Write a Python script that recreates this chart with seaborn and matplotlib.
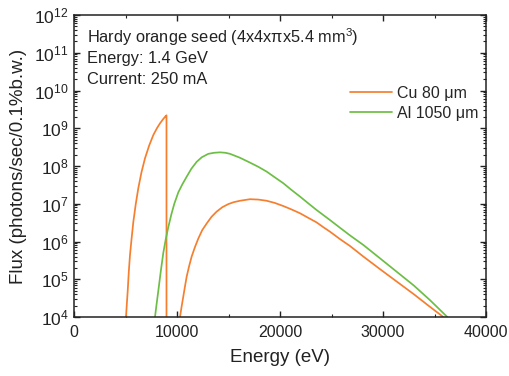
import numpy as np
import pandas as pd
import matplotlib
matplotlib.use("Agg")
import matplotlib.pyplot as plt
import matplotlib.ticker as mticker
from matplotlib.lines import Line2D
import seaborn as sns

# ---- data ----
cu_edge_E = [5049, 5130, 5210, 5320, 5437, 5600, 5760, 6000, 6245, 6550, 6893,
             7300, 7700, 8050, 8350, 8650, 8900, 8980, 8980]
cu_edge_F = [1.0e4, 2.24e4, 4.7e4, 1.58e5, 4.4e5, 1.26e6, 3.3e6, 1.0e7, 2.6e7, 6.8e7, 1.6e8,
             3.5e8, 6.6e8, 1.0e9, 1.35e9, 1.74e9, 2.1e9, 2.2e9, 1.0e4]

cu_main_E = [10290, 10450, 10612, 10780, 10938, 11180, 11424, 11750, 12070, 12450,
             12880, 13350, 13850, 14400, 14984, 15500, 16117, 17087, 17900, 18706,
             19500, 20320, 21100, 21942, 22700, 23560, 24200, 24854, 25800, 26796,
             28090, 29700, 31330, 33000, 34560, 35857]
cu_main_F = [1.0e4, 1.9e4, 3.5e4, 6.6e4, 1.17e5, 2.24e5, 4.0e5, 7.2e5, 1.2e6, 2.0e6,
             3.0e6, 4.5e6, 6.2e6, 8.1e6, 9.8e6, 1.1e7, 1.2e7, 1.32e7, 1.29e7, 1.2e7,
             1.05e7, 8.7e6, 7.1e6, 5.6e6, 4.3e6, 3.2e6, 2.4e6, 1.82e6, 1.17e6, 7.6e5,
             4.0e5, 1.86e5, 8.7e4, 4.0e4, 1.86e4, 1.0e4]

al_E = [7864, 8000, 8188, 8430, 8670, 8900, 9155, 9450, 9738, 10126, 10500, 10938,
        11400, 11909, 12400, 13040, 13600, 14175, 14700, 15146, 16100, 17087, 17900,
        18706, 19500, 20320, 21100, 21942, 22700, 23560, 24854, 25800, 26796, 28090,
        29700, 31330, 33000, 34560, 36245]
al_F = [1.0e4, 2.0e4, 5.0e4, 1.66e5, 5.0e5, 1.12e6, 2.4e6, 5.2e6, 1.0e7, 2.0e7, 3.2e7, 5.2e7,
        8.5e7, 1.29e8, 1.7e8, 2.1e8, 2.24e8, 2.3e8, 2.24e8, 2.1e8, 1.66e8, 1.23e8, 9.5e7,
        7.1e7, 5.0e7, 3.5e7, 2.34e7, 1.55e7, 1.05e7, 6.8e6, 3.7e6, 2.34e6, 1.45e6, 8.1e5,
        3.6e5, 1.58e5, 6.8e4, 2.8e4, 1.0e4]

series_names = ["Cu 80 \u03bcm", "Al 1050 \u03bcm"]
series_colors = ["#F57F2E", "#6DBE45"]
x_ticks = [0, 10000, 20000, 30000, 40000]
title_lines = ["Hardy orange seed (4x4x\u03c0x5.4 mm$^3$)", "Energy: 1.4 GeV", "Current: 250 mA"]

df = pd.concat([
    pd.DataFrame({"E": cu_edge_E, "F": cu_edge_F, "series": series_names[0], "seg": 0}),
    pd.DataFrame({"E": cu_main_E, "F": cu_main_F, "series": series_names[0], "seg": 1}),
    pd.DataFrame({"E": al_E, "F": al_F, "series": series_names[1], "seg": 2}),
], ignore_index=True)

sns.set_style("ticks")
plt.rcParams["font.family"] = ["Liberation Sans", "DejaVu Sans"]
plt.rcParams["mathtext.fontset"] = "custom"
plt.rcParams["mathtext.rm"] = "Liberation Sans"
plt.rcParams["mathtext.it"] = "Liberation Sans:italic"
plt.rcParams["mathtext.bf"] = "Liberation Sans:bold"

W, H = 509, 376
fig = plt.figure(figsize=(W / 100, H / 100), dpi=100)
L, R, T, B = 74, 486, 15, 317
ax = fig.add_axes([L / W, 1 - B / H, (R - L) / W, (B - T) / H])

palette = dict(zip(series_names, series_colors))
sns.lineplot(data=df, x="E", y="F", hue="series", units="seg", estimator=None,
             sort=False, palette=palette, hue_order=series_names, lw=1.25,
             legend=False, ax=ax)

ax.set_yscale("log")
ax.set_xlim(0, 40000)
ax.set_ylim(1e4, 1e12)
ax.set_xticks(x_ticks)
ax.set_xticklabels([str(v) for v in x_ticks])
ax.xaxis.set_minor_locator(mticker.MultipleLocator(5000))
ax.yaxis.set_major_locator(mticker.LogLocator(base=10, numticks=20))
ax.yaxis.set_minor_locator(mticker.LogLocator(base=10, subs=np.arange(2, 10), numticks=100))
ax.yaxis.set_minor_formatter(mticker.NullFormatter())

ax.tick_params(which="both", direction="in", top=True, right=True, color="#222222")
ax.tick_params(which="major", length=4.5, width=1.0, labelsize=11.5, labelcolor="#222222")
ax.tick_params(axis="x", which="major", pad=6)
ax.tick_params(axis="y", which="major", pad=4, labelsize=12.5)
ax.tick_params(which="minor", length=2.3, width=0.8)
for s in ax.spines.values():
    s.set_linewidth(1.1)
    s.set_color("#222222")

ax.set_xlabel("Energy (eV)", fontsize=13.5, color="#222222")
ax.set_ylabel("Flux (photons/sec/0.1%b.w.)", fontsize=13.5, color="#222222")
ax.xaxis.set_label_coords(0.5, (B - 349) / (B - T))
ax.yaxis.set_label_coords((27 - L) / (R - L), 0.5)

for i, line in enumerate(title_lines):
    ax.text((87 - L) / (R - L), (B - 43.5 - i * 20) / (B - T), line, transform=ax.transAxes,
            fontsize=11.8, color="#222222", ha="left", va="baseline")

handles = [Line2D([], [], color=c, lw=1.25) for c in series_colors]
ax.legend(handles, series_names, loc="upper left", frameon=False, fontsize=11.5,
          bbox_to_anchor=((350 - L) / (R - L), (B - 86) / (B - T)),
          borderaxespad=0, borderpad=0, handlelength=2.6, handletextpad=0.35,
          labelspacing=0.3)

fig.savefig("out.png", dpi=100)
